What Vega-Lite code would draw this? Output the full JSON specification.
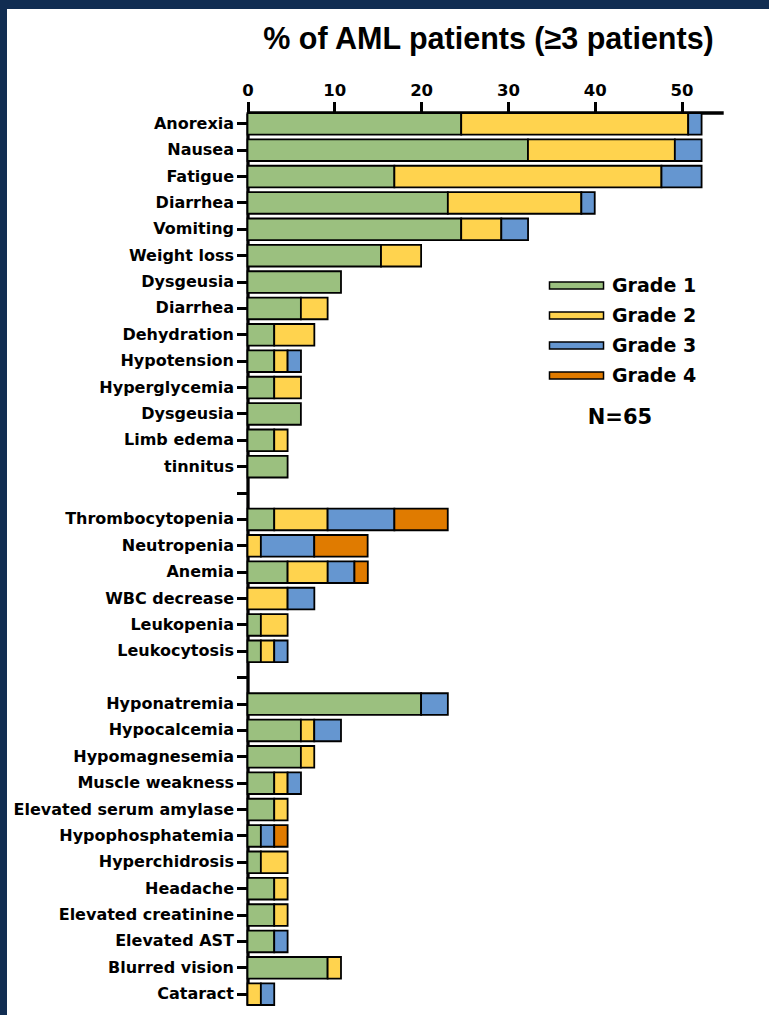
{
  "$schema": "https://vega.github.io/schema/vega-lite/v6.json",
  "width": 762,
  "height": 1006,
  "autosize": {"type": "none"},
  "padding": {"left": 7, "top": 9, "right": 0, "bottom": 0},
  "background": "#112d52",
  "config": {
    "view": {"fill": "white", "stroke": null},
    "axis": {"grid": false, "domainColor": "black", "tickColor": "black", "labelColor": "black", "labelFont": "DejaVu Sans", "labelFontWeight": "bold"}
  },
  "data": {"values": [
    {"ae": "Anorexia", "key": "Anorexia", "grade": "Grade 1", "g": 1, "pct": 24.62},
    {"ae": "Anorexia", "key": "Anorexia", "grade": "Grade 2", "g": 2, "pct": 26.15},
    {"ae": "Anorexia", "key": "Anorexia", "grade": "Grade 3", "g": 3, "pct": 1.54},
    {"ae": "Nausea", "key": "Nausea", "grade": "Grade 1", "g": 1, "pct": 32.31},
    {"ae": "Nausea", "key": "Nausea", "grade": "Grade 2", "g": 2, "pct": 16.92},
    {"ae": "Nausea", "key": "Nausea", "grade": "Grade 3", "g": 3, "pct": 3.08},
    {"ae": "Fatigue", "key": "Fatigue", "grade": "Grade 1", "g": 1, "pct": 16.92},
    {"ae": "Fatigue", "key": "Fatigue", "grade": "Grade 2", "g": 2, "pct": 30.77},
    {"ae": "Fatigue", "key": "Fatigue", "grade": "Grade 3", "g": 3, "pct": 4.62},
    {"ae": "Diarrhea", "key": "Diarrhea|1", "grade": "Grade 1", "g": 1, "pct": 23.08},
    {"ae": "Diarrhea", "key": "Diarrhea|1", "grade": "Grade 2", "g": 2, "pct": 15.38},
    {"ae": "Diarrhea", "key": "Diarrhea|1", "grade": "Grade 3", "g": 3, "pct": 1.54},
    {"ae": "Vomiting", "key": "Vomiting", "grade": "Grade 1", "g": 1, "pct": 24.62},
    {"ae": "Vomiting", "key": "Vomiting", "grade": "Grade 2", "g": 2, "pct": 4.62},
    {"ae": "Vomiting", "key": "Vomiting", "grade": "Grade 3", "g": 3, "pct": 3.08},
    {"ae": "Weight loss", "key": "Weight loss", "grade": "Grade 1", "g": 1, "pct": 15.38},
    {"ae": "Weight loss", "key": "Weight loss", "grade": "Grade 2", "g": 2, "pct": 4.62},
    {"ae": "Dysgeusia", "key": "Dysgeusia|1", "grade": "Grade 1", "g": 1, "pct": 10.77},
    {"ae": "Diarrhea", "key": "Diarrhea|2", "grade": "Grade 1", "g": 1, "pct": 6.15},
    {"ae": "Diarrhea", "key": "Diarrhea|2", "grade": "Grade 2", "g": 2, "pct": 3.08},
    {"ae": "Dehydration", "key": "Dehydration", "grade": "Grade 1", "g": 1, "pct": 3.08},
    {"ae": "Dehydration", "key": "Dehydration", "grade": "Grade 2", "g": 2, "pct": 4.62},
    {"ae": "Hypotension", "key": "Hypotension", "grade": "Grade 1", "g": 1, "pct": 3.08},
    {"ae": "Hypotension", "key": "Hypotension", "grade": "Grade 2", "g": 2, "pct": 1.54},
    {"ae": "Hypotension", "key": "Hypotension", "grade": "Grade 3", "g": 3, "pct": 1.54},
    {"ae": "Hyperglycemia", "key": "Hyperglycemia", "grade": "Grade 1", "g": 1, "pct": 3.08},
    {"ae": "Hyperglycemia", "key": "Hyperglycemia", "grade": "Grade 2", "g": 2, "pct": 3.08},
    {"ae": "Dysgeusia", "key": "Dysgeusia|2", "grade": "Grade 1", "g": 1, "pct": 6.15},
    {"ae": "Limb edema", "key": "Limb edema", "grade": "Grade 1", "g": 1, "pct": 3.08},
    {"ae": "Limb edema", "key": "Limb edema", "grade": "Grade 2", "g": 2, "pct": 1.54},
    {"ae": "tinnitus", "key": "tinnitus", "grade": "Grade 1", "g": 1, "pct": 4.62},
    {"ae": "Thrombocytopenia", "key": "Thrombocytopenia", "grade": "Grade 1", "g": 1, "pct": 3.08},
    {"ae": "Thrombocytopenia", "key": "Thrombocytopenia", "grade": "Grade 2", "g": 2, "pct": 6.15},
    {"ae": "Thrombocytopenia", "key": "Thrombocytopenia", "grade": "Grade 3", "g": 3, "pct": 7.69},
    {"ae": "Thrombocytopenia", "key": "Thrombocytopenia", "grade": "Grade 4", "g": 4, "pct": 6.15},
    {"ae": "Neutropenia", "key": "Neutropenia", "grade": "Grade 2", "g": 2, "pct": 1.54},
    {"ae": "Neutropenia", "key": "Neutropenia", "grade": "Grade 3", "g": 3, "pct": 6.15},
    {"ae": "Neutropenia", "key": "Neutropenia", "grade": "Grade 4", "g": 4, "pct": 6.15},
    {"ae": "Anemia", "key": "Anemia", "grade": "Grade 1", "g": 1, "pct": 4.62},
    {"ae": "Anemia", "key": "Anemia", "grade": "Grade 2", "g": 2, "pct": 4.62},
    {"ae": "Anemia", "key": "Anemia", "grade": "Grade 3", "g": 3, "pct": 3.08},
    {"ae": "Anemia", "key": "Anemia", "grade": "Grade 4", "g": 4, "pct": 1.54},
    {"ae": "WBC decrease", "key": "WBC decrease", "grade": "Grade 2", "g": 2, "pct": 4.62},
    {"ae": "WBC decrease", "key": "WBC decrease", "grade": "Grade 3", "g": 3, "pct": 3.08},
    {"ae": "Leukopenia", "key": "Leukopenia", "grade": "Grade 1", "g": 1, "pct": 1.54},
    {"ae": "Leukopenia", "key": "Leukopenia", "grade": "Grade 2", "g": 2, "pct": 3.08},
    {"ae": "Leukocytosis", "key": "Leukocytosis", "grade": "Grade 1", "g": 1, "pct": 1.54},
    {"ae": "Leukocytosis", "key": "Leukocytosis", "grade": "Grade 2", "g": 2, "pct": 1.54},
    {"ae": "Leukocytosis", "key": "Leukocytosis", "grade": "Grade 3", "g": 3, "pct": 1.54},
    {"ae": "Hyponatremia", "key": "Hyponatremia", "grade": "Grade 1", "g": 1, "pct": 20.0},
    {"ae": "Hyponatremia", "key": "Hyponatremia", "grade": "Grade 3", "g": 3, "pct": 3.08},
    {"ae": "Hypocalcemia", "key": "Hypocalcemia", "grade": "Grade 1", "g": 1, "pct": 6.15},
    {"ae": "Hypocalcemia", "key": "Hypocalcemia", "grade": "Grade 2", "g": 2, "pct": 1.54},
    {"ae": "Hypocalcemia", "key": "Hypocalcemia", "grade": "Grade 3", "g": 3, "pct": 3.08},
    {"ae": "Hypomagnesemia", "key": "Hypomagnesemia", "grade": "Grade 1", "g": 1, "pct": 6.15},
    {"ae": "Hypomagnesemia", "key": "Hypomagnesemia", "grade": "Grade 2", "g": 2, "pct": 1.54},
    {"ae": "Muscle weakness", "key": "Muscle weakness", "grade": "Grade 1", "g": 1, "pct": 3.08},
    {"ae": "Muscle weakness", "key": "Muscle weakness", "grade": "Grade 2", "g": 2, "pct": 1.54},
    {"ae": "Muscle weakness", "key": "Muscle weakness", "grade": "Grade 3", "g": 3, "pct": 1.54},
    {"ae": "Elevated serum amylase", "key": "Elevated serum amylase", "grade": "Grade 1", "g": 1, "pct": 3.08},
    {"ae": "Elevated serum amylase", "key": "Elevated serum amylase", "grade": "Grade 2", "g": 2, "pct": 1.54},
    {"ae": "Hypophosphatemia", "key": "Hypophosphatemia", "grade": "Grade 1", "g": 1, "pct": 1.54},
    {"ae": "Hypophosphatemia", "key": "Hypophosphatemia", "grade": "Grade 3", "g": 3, "pct": 1.54},
    {"ae": "Hypophosphatemia", "key": "Hypophosphatemia", "grade": "Grade 4", "g": 4, "pct": 1.54},
    {"ae": "Hyperchidrosis", "key": "Hyperchidrosis", "grade": "Grade 1", "g": 1, "pct": 1.54},
    {"ae": "Hyperchidrosis", "key": "Hyperchidrosis", "grade": "Grade 2", "g": 2, "pct": 3.08},
    {"ae": "Headache", "key": "Headache", "grade": "Grade 1", "g": 1, "pct": 3.08},
    {"ae": "Headache", "key": "Headache", "grade": "Grade 2", "g": 2, "pct": 1.54},
    {"ae": "Elevated creatinine", "key": "Elevated creatinine", "grade": "Grade 1", "g": 1, "pct": 3.08},
    {"ae": "Elevated creatinine", "key": "Elevated creatinine", "grade": "Grade 2", "g": 2, "pct": 1.54},
    {"ae": "Elevated AST", "key": "Elevated AST", "grade": "Grade 1", "g": 1, "pct": 3.08},
    {"ae": "Elevated AST", "key": "Elevated AST", "grade": "Grade 3", "g": 3, "pct": 1.54},
    {"ae": "Blurred vision", "key": "Blurred vision", "grade": "Grade 1", "g": 1, "pct": 9.23},
    {"ae": "Blurred vision", "key": "Blurred vision", "grade": "Grade 2", "g": 2, "pct": 1.54},
    {"ae": "Cataract", "key": "Cataract", "grade": "Grade 2", "g": 2, "pct": 1.54},
    {"ae": "Cataract", "key": "Cataract", "grade": "Grade 3", "g": 3, "pct": 1.54}
  ]},
  "mark": {"type": "bar", "stroke": "black", "strokeWidth": 1.8, "orient": "horizontal"},
  "encoding": {
    "y": {
      "field": "key",
      "type": "nominal",
      "scale": {
        "domain": ["Anorexia", "Nausea", "Fatigue", "Diarrhea|1", "Vomiting", "Weight loss", "Dysgeusia|1", "Diarrhea|2", "Dehydration", "Hypotension", "Hyperglycemia", "Dysgeusia|2", "Limb edema", "tinnitus", "|gap1", "Thrombocytopenia", "Neutropenia", "Anemia", "WBC decrease", "Leukopenia", "Leukocytosis", "|gap2", "Hyponatremia", "Hypocalcemia", "Hypomagnesemia", "Muscle weakness", "Elevated serum amylase", "Hypophosphatemia", "Hyperchidrosis", "Headache", "Elevated creatinine", "Elevated AST", "Blurred vision", "Cataract"],
        "range": [104, 996],
        "paddingInner": 0.18,
        "paddingOuter": 0
      },
      "axis": {
        "title": null,
        "orient": "left",
        "offset": -240.5,
        "labelExpr": "split(datum.value, '|')[0]",
        "labelFontSize": 16,
        "labelPadding": 3,
        "labelLimit": 320,
        "tickSize": 11,
        "tickWidth": 3,
        "domainWidth": 3.3
      }
    },
    "x": {
      "field": "pct",
      "type": "quantitative",
      "stack": "zero",
      "scale": {"domain": [0, 54.8], "range": [240.5, 716.2], "nice": false, "zero": true},
      "axis": {
        "orient": "top",
        "offset": -103.5,
        "values": [0, 10, 20, 30, 40, 50],
        "labelFlush": false,
        "labelFontSize": 16.5,
        "labelPadding": 3,
        "tickSize": 11,
        "tickWidth": 3,
        "domainWidth": 3.5,
        "title": "% of AML patients (≥3 patients)",
        "titleFont": "Liberation Sans",
        "titleFontWeight": "bold",
        "titleFontSize": 30.5,
        "titleColor": "black",
        "titleX": 481,
        "titleY": -64,
        "titleAlign": "center",
        "titleBaseline": "alphabetic",
        "titleAngle": 0
      }
    },
    "color": {
      "field": "grade",
      "type": "nominal",
      "scale": {"domain": ["Grade 1", "Grade 2", "Grade 3", "Grade 4"], "range": ["#9bc07f", "#ffd34e", "#6596d0", "#e07b00"]},
      "legend": {
        "title": "N=65",
        "orient": "none",
        "legendX": 536,
        "legendY": 267,
        "padding": 0,
        "titleOrient": "bottom",
        "titleAnchor": "middle",
        "titleFont": "DejaVu Sans",
        "titleFontWeight": "bold",
        "titleFontSize": 21,
        "titleColor": "black",
        "titlePadding": 21,
        "labelFont": "DejaVu Sans",
        "labelFontWeight": "bold",
        "labelFontSize": 19,
        "labelColor": "black",
        "labelOffset": 50,
        "rowPadding": 10,
        "symbolType": "M-0.43,-0.5H7.29V0.5H-0.43Z",
        "symbolSize": 196,
        "symbolStrokeColor": "black",
        "symbolStrokeWidth": 1.5,
        "symbolOpacity": 1
      }
    },
    "order": {"field": "g", "type": "quantitative"},
    "tooltip": [
      {"field": "ae", "type": "nominal"},
      {"field": "grade", "type": "nominal"},
      {"field": "pct", "type": "quantitative"}
    ]
  }
}
